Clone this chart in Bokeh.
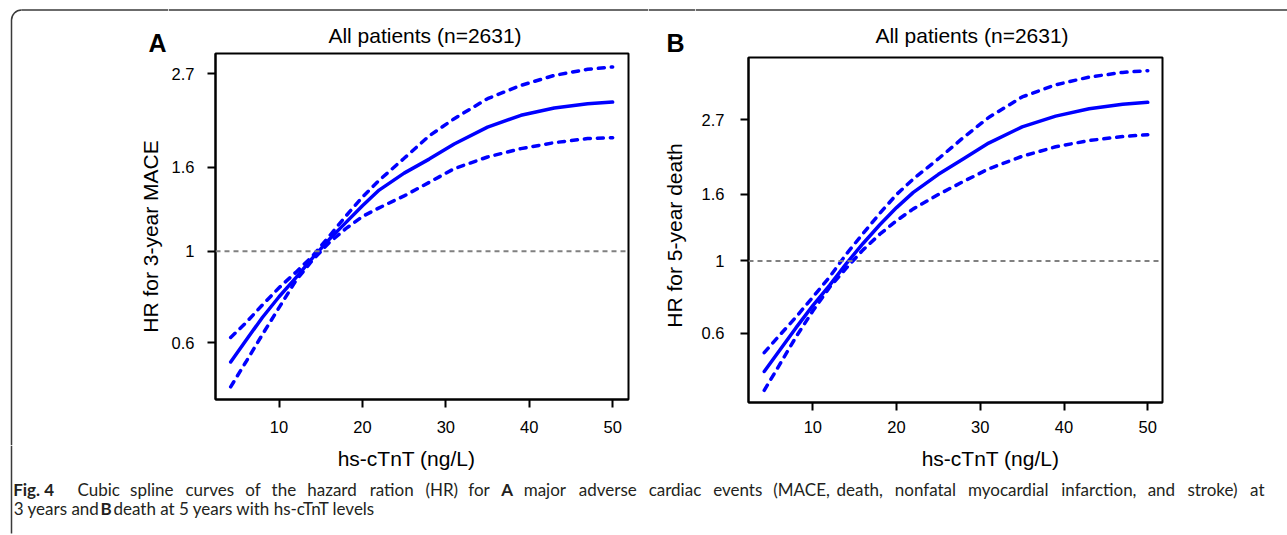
import math
from bokeh.plotting import figure
from bokeh.layouts import column, row
from bokeh.models import Range1d, FixedTicker, Span, Label, CustomJSTickFormatter
from bokeh.embed import file_html
from bokeh.resources import INLINE

# ---------------- data ----------------
hs_ctnt = [4.2, 6, 8, 10, 12, 14, 16, 18, 20, 22, 25, 28, 31, 35, 39, 43, 47, 50]

# Panel A: HR for 3-year MACE
mace_hr = [0.539, 0.607, 0.691, 0.776, 0.862, 0.963, 1.068, 1.174, 1.290, 1.408,
           1.548, 1.674, 1.822, 2.002, 2.138, 2.228, 2.282, 2.302]
mace_upper = [0.618, 0.670, 0.741, 0.816, 0.889, 0.973, 1.087, 1.217, 1.354, 1.487,
              1.682, 1.906, 2.098, 2.347, 2.527, 2.672, 2.765, 2.801]
mace_lower = [0.469, 0.538, 0.628, 0.730, 0.848, 0.951, 1.049, 1.135, 1.215, 1.275,
              1.363, 1.470, 1.587, 1.694, 1.775, 1.835, 1.878, 1.887]

# Panel B: HR for 5-year death
death_hr = [0.459, 0.531, 0.625, 0.730, 0.842, 0.982, 1.131, 1.290, 1.456, 1.621,
            1.840, 2.054, 2.293, 2.570, 2.773, 2.921, 3.016, 3.056]
death_upper = [0.524, 0.591, 0.674, 0.775, 0.893, 1.049, 1.213, 1.398, 1.597, 1.781,
               2.054, 2.387, 2.746, 3.174, 3.456, 3.651, 3.773, 3.819]
death_lower = [0.402, 0.480, 0.586, 0.703, 0.830, 0.951, 1.081, 1.207, 1.328, 1.443,
               1.597, 1.751, 1.912, 2.090, 2.234, 2.335, 2.401, 2.433]

x_ticks = [10, 20, 30, 40, 50]
y_ticks = [0.6, 1, 1.6, 2.7]
panel_title = "All patients (n=2631)"
x_label = "hs-cTnT (ng/L)"
y_label_a = "HR for 3-year MACE"
y_label_b = "HR for 5-year death"
caption_line1 = [("Cubic", 0), ("spline", 0), ("curves", 0), ("of", 0), ("the", 0),
                 ("hazard", 0), ("ration", 0), ("(HR)", 0), ("for", 0), ("A", 1),
                 ("major", 0), ("adverse", 0), ("cardiac", 0), ("events", 0),
                 ("(MACE,", 0), ("death,", 0), ("nonfatal", 0), ("myocardial", 0),
                 ("infarction,", 0), ("and", 0), ("stroke)", 0), ("at", 0)]

FONT = "Liberation Sans"
BLUE = "#0000FF"
FRAME = "#3a3a3a"
W, H = 1287, 535
BASE_SHIFT = 0.37  # label anchor sits this many em above the glyph baseline

# approximate advance widths (em) used only to justify the caption's first line
EM = {" ": .26, "(": .296, ")": .296, ",": .245, "-": .322, ".": .266, "A": .633,
      "C": .631, "E": .556, "H": .738, "M": .903, "R": .65, "T": .559, "a": .556,
      "b": .613, "c": .476, "d": .613, "e": .561, "f": .339, "g": .548, "h": .614,
      "i": .253, "j": .253, "k": .525, "l": .253, "m": .93, "n": .614, "o": .604,
      "p": .613, "r": .408, "s": .477, "t": .353, "u": .614, "v": .501, "y": .501,
      "z": .459}


def em_width(word, bold=False):
    return sum(EM.get(ch, .55) for ch in word) * (1.1 if bold else 1.0)


def blank(x0, x1, y0, y1):
    # a figure whose frame fills it, with page pixel coordinates as data
    f = figure(width=x1 - x0, height=y1 - y0, x_range=Range1d(x0, x1),
               y_range=Range1d(y1, y0), output_backend="svg", title=None,
               toolbar_location=None, min_border=0, frame_align=False,
               x_axis_location=None, y_axis_location=None)
    f.grid.visible = False
    f.outline_line_color = None
    f.background_fill_color = "white"
    f.border_fill_color = "white"
    return f


def text(f, x, y, txt, size, style="normal", align="left", angle=0,
         font=FONT, color="black"):
    # (x, y) is the start (or centre) of the glyph baseline, in page pixels
    shift = BASE_SHIFT * size
    if angle:
        x = x - shift - 3
    else:
        y = y - shift
    f.add_layout(Label(x=x, y=y, text=txt, text_font=font,
                       text_font_size="%gpx" % size, text_font_style=style,
                       text_align=align, text_baseline="alphabetic", angle=angle,
                       text_color=color))


def hline(f, x0, x1, y):
    f.segment(x0=[x0], y0=[y], x1=[x1], y1=[y], line_color=FRAME, line_width=1.5)


def vline(f, x, y0, y1):
    f.segment(x0=[x], y0=[y0], x1=[x], y1=[y1], line_color=FRAME, line_width=1.5)


def panel(width, height, bl, br, bt, bb, xr, yr, upper, mid, lower, ystand, xstand):
    p = figure(width=width, height=height, x_range=Range1d(*xr), y_range=Range1d(*yr),
               y_axis_type="log", output_backend="svg", toolbar_location=None,
               title=None, frame_align=False, min_border_left=bl,
               min_border_right=br, min_border_top=bt, min_border_bottom=bb)
    p.grid.visible = False
    p.outline_line_color = "black"
    p.outline_line_width = 2
    p.background_fill_color = "white"
    p.border_fill_color = "white"

    xa = p.xaxis[0]
    ya = p.yaxis[0]
    xa.ticker = FixedTicker(ticks=x_ticks)
    ya.ticker = FixedTicker(ticks=y_ticks)
    ya.formatter = CustomJSTickFormatter(code="return String(tick);")
    for ax in (xa, ya):
        ax.axis_line_color = "black"
        ax.axis_line_width = 2
        ax.major_tick_line_color = "black"
        ax.major_tick_line_width = 2
        ax.major_tick_in = 0
        ax.major_tick_out = 8
        ax.minor_tick_line_color = None
        ax.major_label_text_font = FONT
        ax.major_label_text_font_size = "16.5px"
        ax.major_label_text_color = "black"
    ya.major_label_standoff = ystand
    xa.major_label_standoff = xstand

    p.add_layout(Span(location=1, dimension="width", line_color="#808080",
                      line_width=2, line_dash="5 4"))

    p.line(hs_ctnt, upper, line_color=BLUE, line_width=3.5, line_dash="6 7",
           line_cap="round")
    p.line(hs_ctnt, lower, line_color=BLUE, line_width=3.5, line_dash="6 7",
           line_cap="round")
    p.line(hs_ctnt, mid, line_color=BLUE, line_width=3.5, line_cap="round")
    return p


HEAD, ROW_BOT = 48, 445
RULE_Y = 9.5
XL, XA, XM, XB = 168, 648, 695, W   # column boundaries

# ---- left column: corner, left rule, letter A, y title of panel A ----
left = blank(0, XL, 0, ROW_BOT)
hline(left, 21, XL, RULE_Y)
left.arc(x=[21], y=[19.5], radius=10, start_angle=math.pi / 2, end_angle=math.pi,
         line_color=FRAME, line_width=1.5)
vline(left, 11, 19.5, ROW_BOT)
text(left, 148, 51.5, "A", 25, style="bold")
text(left, 160.5, 236, y_label_a, 21, align="center", angle=math.pi / 2)

# ---- panel A column ----
head_a = blank(XL, XA, 0, HEAD)
hline(head_a, XL, XA, RULE_Y)
text(head_a, 424.5, 42.7, panel_title, 21, align="center")
pa = panel(XA - XL, ROW_BOT - HEAD, 213 - XL, XA - 628, 53 - HEAD, ROW_BOT - 399,
           (2.38, 51.9), (0.437, 3.02), mace_upper, mace_hr, mace_lower,
           ystand=13, xstand=13)

# ---- middle column: letter B, y title of panel B ----
mid = blank(XA, XM, 0, ROW_BOT)
hline(mid, XA, XM, RULE_Y)
text(mid, 666, 51.5, "B", 25, style="bold")
text(mid, 685, 235, y_label_b, 21, align="center", angle=math.pi / 2)

# ---- panel B column ----
head_b = blank(XM, XB, 0, HEAD)
hline(head_b, XM, XB, RULE_Y)
text(head_b, 971.5, 42.7, panel_title, 21, align="center")
pb = panel(XB - XM, ROW_BOT - HEAD, 748 - XM, XB - 1162, 57 - HEAD, ROW_BOT - 402,
           (2.32, 51.76), (0.369, 4.19), death_upper, death_hr, death_lower,
           ystand=16, xstand=10)

# ---------------- footer (x titles, caption) ----------------
footer = blank(0, W, ROW_BOT, H)
vline(footer, 11, ROW_BOT, 533)
text(footer, 406, 466, x_label, 21, align="center")
text(footer, 990, 466, x_label, 21, align="center")

CAP_FONT = "Lato"
CAP_SIZE = 17
CAP_COLOR = "#231f20"
CAP_K = 0.935 * CAP_SIZE          # em -> px for the caption face
L1_Y, L2_Y = 495, 514.5
L1_START, L1_END = 77, 1264

text(footer, 12.7, L1_Y, "Fig. 4", CAP_SIZE, style="bold", font=CAP_FONT, color=CAP_COLOR)
widths = [em_width(w, b) * CAP_K for w, b in caption_line1]
gap = (L1_END - L1_START - sum(widths)) / (len(widths) - 1)
xpos = L1_START
for (word, bold), wd in zip(caption_line1, widths):
    text(footer, xpos, L1_Y, word, CAP_SIZE, style="bold" if bold else "normal",
         font=CAP_FONT, color=CAP_COLOR)
    xpos += wd + gap

text(footer, 13.3, L2_Y, "3 years and", CAP_SIZE, font=CAP_FONT, color=CAP_COLOR)
text(footer, 100, L2_Y, "B", CAP_SIZE, style="bold", font=CAP_FONT, color=CAP_COLOR)
text(footer, 113, L2_Y, "death at 5 years with hs-cTnT levels", CAP_SIZE,
     font=CAP_FONT, color=CAP_COLOR)

layout = column(row(left, column(head_a, pa), mid, column(head_b, pb)), footer)
open("out.html", "w").write(file_html(layout, INLINE))
